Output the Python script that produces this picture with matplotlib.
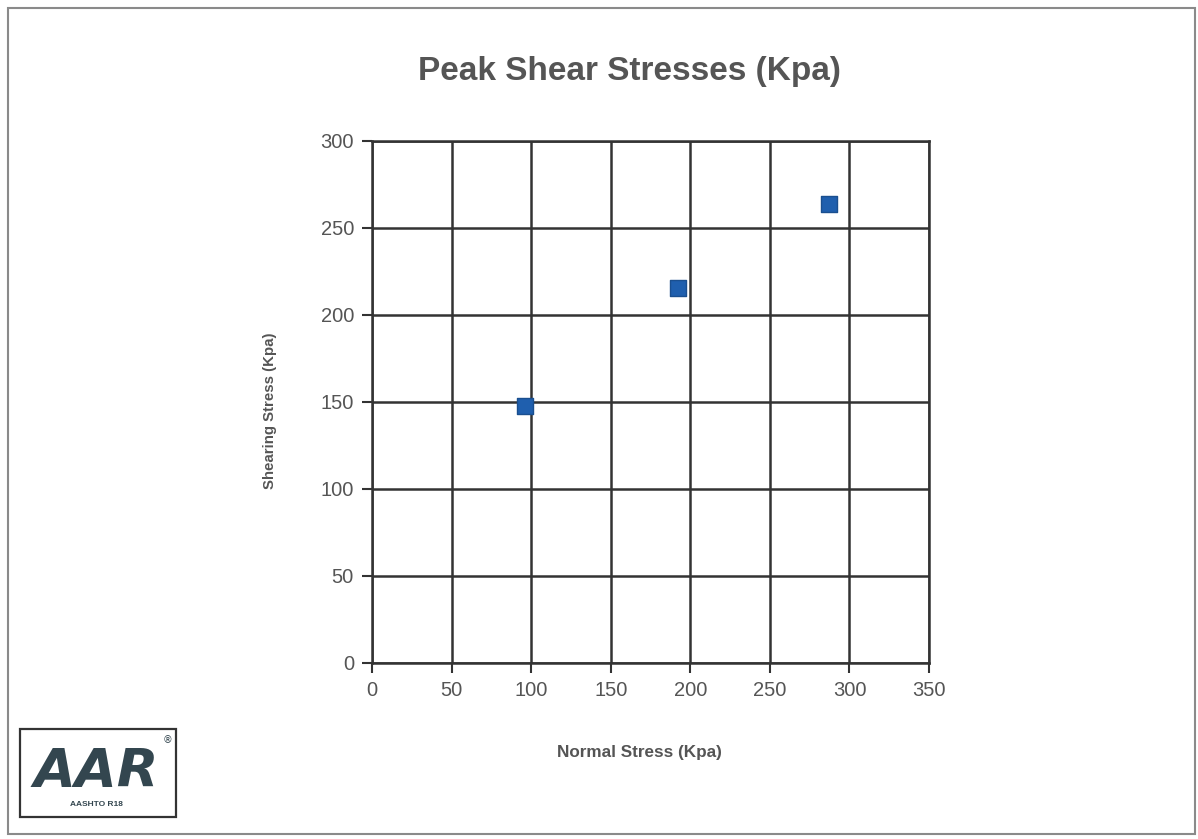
"""Peak shear stresses scatter (direct shear test, AASHTO R18 report style)."""

import matplotlib

matplotlib.use("Agg")
import matplotlib.pyplot as plt
from matplotlib.patches import Rectangle

plt.rcParams["font.family"] = ["Liberation Sans", "DejaVu Sans"]

# 数据：法向应力 / 峰值剪应力 (Kpa)
normal_stress = [96, 192, 287]
shear_stress = [147.5, 215.5, 264]

x_ticks = [0, 50, 100, 150, 200, 250, 300, 350]
y_ticks = [0, 50, 100, 150, 200, 250, 300]

TEXT_GRAY = "#555555"
GRID_COLOR = "#333333"

fig = plt.figure(figsize=(11.98, 8.39), dpi=100)
ax = fig.add_axes([0.3105, 0.2098, 0.465, 0.6222])

ax.scatter(
    normal_stress,
    shear_stress,
    marker="s",
    s=125,
    color="#1f5fae",
    edgecolors="#1a4f8f",
    linewidths=1.0,
    zorder=3,
    clip_on=False,
)

ax.set_xlim(0, 350)
ax.set_ylim(0, 300)
ax.set_xticks(x_ticks)
ax.set_yticks(y_ticks)
ax.grid(True, color=GRID_COLOR, linewidth=1.8)
ax.set_axisbelow(True)
for spine in ax.spines.values():
    spine.set_color(GRID_COLOR)
    spine.set_linewidth(1.8)
ax.tick_params(axis="both", direction="out", length=7, width=1.5, color=GRID_COLOR,
               labelsize=14.5, labelcolor=TEXT_GRAY, pad=6)

fig.text(0.525, 0.915, "Peak Shear Stresses (Kpa)", ha="center", va="center",
         fontsize=24, fontweight="bold", color=TEXT_GRAY)
fig.text(0.225, 0.511, "Shearing Stress (Kpa)", ha="center", va="center", rotation=90,
         fontsize=10.8, fontweight="bold", color=TEXT_GRAY)
fig.text(0.534, 0.103, "Normal Stress (Kpa)", ha="center", va="center",
         fontsize=12.3, fontweight="bold", color=TEXT_GRAY)

# 外框
fig.patches.append(Rectangle((8 / 1198, 5 / 839), 1187 / 1198, 826 / 839,
                             transform=fig.transFigure, fill=False,
                             edgecolor="#8a8a8a", linewidth=1.5))

# AAR logo
fig.patches.append(Rectangle((20 / 1198, 22 / 839), 156 / 1198, 88 / 839,
                             transform=fig.transFigure, fill=False,
                             edgecolor="#333333", linewidth=1.6))
fig.text(96 / 1198, 1 - 772 / 839, "AAR", ha="center", va="center", fontsize=39,
         fontweight="heavy", style="italic", color="#33464f", family="DejaVu Sans")
fig.text(96 / 1198, 1 - 805 / 839, "AASHTO R18", ha="center", va="center", fontsize=6,
         fontweight="bold", color="#33464f")
fig.text(168 / 1198, 1 - 740 / 839, "®", ha="center", va="center", fontsize=7,
         color="#33464f", family="DejaVu Sans")

fig.savefig("out.png", dpi=100, facecolor="white")
plt.close(fig)
